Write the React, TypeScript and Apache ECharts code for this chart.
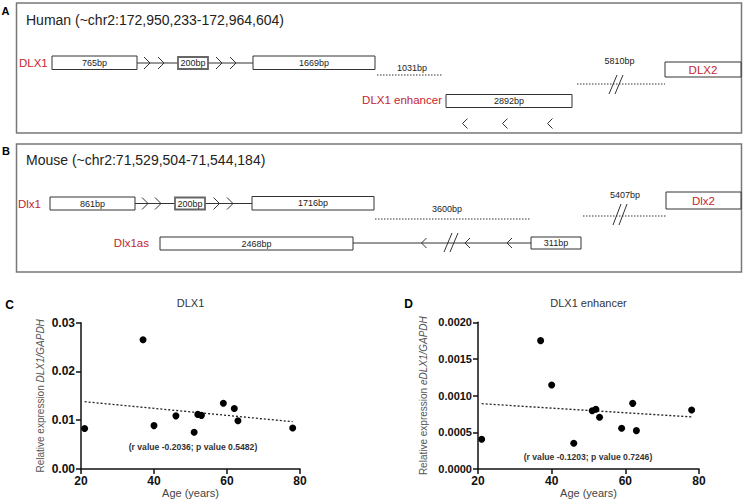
import React, { useEffect, useRef } from "react";
import * as echarts from "echarts";

// ---------- Panels C / D : data ----------
const ages = [21, 37, 40, 46, 51, 52, 53, 59, 62, 63, 78];
const dlx1Expression = [0.0083, 0.0265, 0.0089, 0.0109, 0.00755, 0.0112, 0.011, 0.0135, 0.0124, 0.0099, 0.0084];
const enhancerExpression = [0.000405, 0.00175, 0.001145, 0.00035, 0.000795, 0.000814, 0.000705, 0.000555, 0.000895, 0.000523, 0.000805];
const trendAges = [21, 78];
const dlx1Trend = [0.0138, 0.0097];
const enhancerTrend = [0.00089, 0.00071];
const ageTicks = [20, 40, 60, 80];
const dlx1Ticks = [0, 0.01, 0.02, 0.03];
const enhancerTicks = [0, 0.0005, 0.001, 0.0015, 0.002];
const chartTitles = ["DLX1", "DLX1 enhancer"];
const statsTexts = ["(r value -0.2036; p value 0.5482)", "(r value -0.1203; p value 0.7246)"];
const panelLetters = ["A", "B", "C", "D"];

// ---------- Panels A / B : schematic text ----------
const humanTitle = "Human (~chr2:172,950,233-172,964,604)";
const mouseTitle = "Mouse (~chr2:71,529,504-71,544,184)";
const humanExonLabels = ["765bp", "200bp", "1669bp"];
const mouseExonLabels = ["861bp", "200bp", "1716bp"];
const humanGapLabels = ["1031bp", "5810bp"];
const mouseGapLabels = ["3600bp", "5407bp"];
const humanGeneNames = ["DLX1", "DLX2", "DLX1 enhancer"];
const mouseGeneNames = ["Dlx1", "Dlx2", "Dlx1as"];
const enhancerLabel = "2892bp";
const antisenseLabels = ["2468bp", "311bp"];

const RED = "#c3262f";
const FONT = "'Liberation Sans', Arial, Helvetica, sans-serif";
const INK = "#333";

function txt(x: number, y: number, text: string, size: number, o: any = {}) {
  return {
    type: "text",
    x,
    y,
    silent: true,
    z: 20,
    style: {
      text,
      fontSize: size,
      fontFamily: FONT,
      fontWeight: o.bold ? "bold" : "normal",
      fill: o.fill || "#222",
      align: o.align || "center",
      verticalAlign: "middle",
    },
  };
}
function box(x0: number, y0: number, x1: number, y1: number, label: string, o: any = {}) {
  return [
    {
      type: "rect",
      z: 10,
      shape: { x: x0, y: y0, width: x1 - x0, height: y1 - y0 },
      style: { fill: "#fff", stroke: o.stroke || INK, lineWidth: o.lw || 1 },
    },
    txt((x0 + x1) / 2, (y0 + y1) / 2, label, o.size || 9, { fill: o.fill || "#222" }),
  ];
}
function hline(x0: number, x1: number, y: number, dashed = false) {
  return {
    type: "line",
    z: 5,
    shape: { x1: x0, y1: y, x2: x1, y2: y },
    style: { stroke: dashed ? "#333" : INK, lineWidth: 1, lineDash: dashed ? [1.5, 1.5] : null },
  };
}
function chevron(cx: number, cy: number, dir: number, h = 6, w = 3) {
  return {
    type: "polyline",
    z: 12,
    shape: { points: [[cx - w * dir, cy - h], [cx + w * dir, cy], [cx - w * dir, cy + h]] },
    style: { stroke: INK, lineWidth: 1, fill: null },
  };
}
function slashes(cx: number, yTop: number, yBot: number) {
  const out: any[] = [];
  [-3, 3].forEach((d) => {
    out.push({
      type: "line",
      z: 12,
      shape: { x1: cx + d - 4, y1: yBot, x2: cx + d + 4, y2: yTop },
      style: { stroke: INK, lineWidth: 1 },
    });
  });
  return out;
}
function frame(x: number, y: number, w: number, h: number) {
  return {
    type: "rect",
    z: 1,
    shape: { x, y, width: w, height: h },
    style: { fill: "none", stroke: "#777", lineWidth: 1.5 },
  };
}

function buildGraphic() {
  const g: any[] = [];
  // ----- Panel A -----
  g.push(frame(16.5, 3, 725, 130));
  g.push(txt(5.5, 10.5, panelLetters[0], 11, { bold: true, fill: "#000" }));
  g.push(txt(26, 20, humanTitle, 14, { align: "left" }));
  const yA = 63;
  g.push(txt(19, yA, humanGeneNames[0], 11.5, { align: "left", fill: RED }));
  g.push(hline(137, 253, yA));
  g.push(...box(52, 56, 137, 69.5, humanExonLabels[0]));
  g.push(...box(178, 57, 208, 69, humanExonLabels[1], { stroke: "#666", lw: 1.8 }));
  g.push(...box(253, 56, 375, 69.5, humanExonLabels[2]));
  [147, 161, 219, 233].forEach((x) => g.push(chevron(x, yA, 1)));
  g.push(hline(377, 443, 75, true));
  g.push(txt(412, 67.5, humanGapLabels[0], 9));
  g.push(hline(577, 665, 84, true));
  g.push(...slashes(616, 75, 94));
  g.push(txt(619.5, 61, humanGapLabels[1], 9));
  g.push(...box(665, 62, 741, 77, humanGeneNames[1], { size: 11.5, fill: RED }));
  g.push(txt(442, 100, humanGeneNames[2], 11.5, { align: "right", fill: RED }));
  g.push(...box(446, 94.5, 572, 107.5, enhancerLabel));
  [465, 505, 550].forEach((x) => g.push(chevron(x, 123.5, -1, 5, 2.5)));

  // ----- Panel B -----
  g.push(frame(16.5, 144, 725, 128));
  g.push(txt(6, 151, panelLetters[1], 11, { bold: true, fill: "#000" }));
  g.push(txt(26, 160, mouseTitle, 14, { align: "left" }));
  const yB = 203.5;
  g.push(txt(18, yB, mouseGeneNames[0], 11.5, { align: "left", fill: RED }));
  g.push(hline(135, 252, yB));
  g.push(...box(50, 197, 135, 210, mouseExonLabels[0]));
  g.push(...box(175, 197.5, 205, 209.5, mouseExonLabels[1], { stroke: "#666", lw: 1.8 }));
  g.push(...box(252, 196.5, 374, 210, mouseExonLabels[2]));
  [145, 158, 216.5, 230].forEach((x) => g.push(chevron(x, yB, 1)));
  g.push(hline(375, 530, 219, true));
  g.push(txt(447, 209, mouseGapLabels[0], 9));
  g.push(hline(583, 666, 216, true));
  g.push(...slashes(620, 204, 225));
  g.push(txt(625, 195, mouseGapLabels[1], 9));
  g.push(...box(666, 192, 741, 209, mouseGeneNames[1], { size: 11.5, fill: RED }));
  const yB2 = 243;
  g.push(txt(149, yB2, mouseGeneNames[2], 11.5, { align: "right", fill: RED }));
  g.push(hline(353, 531, yB2));
  g.push(...box(160, 237, 353, 250, antisenseLabels[0]));
  g.push(...box(531, 237, 581, 249, antisenseLabels[1]));
  [424, 467.5, 509.5].forEach((x) => g.push(chevron(x, yB2, -1, 5, 2.5)));
  g.push(...slashes(451, 233, 252));

  // ----- Panels C / D annotations -----
  g.push(txt(9.5, 305, panelLetters[2], 12, { bold: true, fill: "#000" }));
  g.push(txt(408.5, 304, panelLetters[3], 12, { bold: true, fill: "#000" }));
  g.push(txt(190.5, 302.5, chartTitles[0], 11, { fill: "#333" }));
  g.push(txt(588.5, 302.5, chartTitles[1], 11, { fill: "#333" }));
  g.push(txt(193, 447, statsTexts[0], 8.6, { bold: true, fill: "#333" }));
  g.push(txt(588, 457, statsTexts[1], 8.6, { bold: true, fill: "#333" }));
  return g;
}

function axisBase(fontSize: number) {
  return {
    axisLine: { show: true, onZero: false, lineStyle: { color: "#111", width: 1.5 } },
    axisTick: { show: true, length: 5, lineStyle: { color: "#111", width: 1.5 } },
    splitLine: { show: false },
    axisLabel: { color: "#111", fontWeight: "bold", fontSize, fontFamily: FONT },
  };
}

export default function App() {
  const ref = useRef<HTMLDivElement>(null);
  useEffect(() => {
    if (!ref.current) return;
    const chart = echarts.init(ref.current, undefined, { renderer: "svg" });
    const yName = (gene: string) => ({
      name: "{n|Relative expression }{i|" + gene + "/GAPDH}",
      nameLocation: "middle",
      nameTextStyle: {
        color: "#555",
        fontSize: 10,
        fontFamily: FONT,
        rich: {
          n: { fontSize: 10, color: "#555", fontFamily: FONT },
          i: { fontSize: 10, color: "#555", fontFamily: FONT, fontStyle: "italic" },
        },
      },
    });
    const xCommon = {
      type: "value",
      min: ageTicks[0],
      max: ageTicks[ageTicks.length - 1],
      interval: ageTicks[1] - ageTicks[0],
      name: "Age (years)",
      nameLocation: "middle",
      nameGap: 15,
      nameTextStyle: { color: "#444", fontSize: 11, fontFamily: FONT, verticalAlign: "top" },
    };
    const option: any = {
      animation: false,
      backgroundColor: "#fff",
      graphic: buildGraphic(),
      grid: [
        { left: 81, top: 322.7, width: 219, height: 146.3 },
        { left: 478, top: 322.3, width: 221, height: 146.7 },
      ],
      xAxis: [
        { ...xCommon, gridIndex: 0, ...axisBase(12), axisLabel: { ...axisBase(12).axisLabel, margin: 6 } },
        { ...xCommon, gridIndex: 1, ...axisBase(12), axisLabel: { ...axisBase(12).axisLabel, margin: 6 } },
      ],
      yAxis: [
        {
          type: "value",
          gridIndex: 0,
          min: dlx1Ticks[0],
          max: dlx1Ticks[dlx1Ticks.length - 1],
          interval: dlx1Ticks[1] - dlx1Ticks[0],
          ...axisBase(12),
          axisLabel: { ...axisBase(12).axisLabel, margin: 6, formatter: (v: number) => v.toFixed(2) },
          ...yName("DLX1"),
          nameGap: 36,
        },
        {
          type: "value",
          gridIndex: 1,
          min: enhancerTicks[0],
          max: enhancerTicks[enhancerTicks.length - 1],
          interval: enhancerTicks[1] - enhancerTicks[0],
          ...axisBase(11),
          axisLabel: { ...axisBase(11).axisLabel, margin: 6, formatter: (v: number) => v.toFixed(4) },
          ...yName("eDLX1"),
          nameGap: 50,
        },
      ],
      series: [
        {
          type: "line",
          xAxisIndex: 0,
          yAxisIndex: 0,
          data: trendAges.map((a, i) => [a, dlx1Trend[i]]),
          symbol: "none",
          lineStyle: { color: "#222", width: 1.3, type: [2, 2] },
          z: 1,
        },
        {
          type: "scatter",
          xAxisIndex: 0,
          yAxisIndex: 0,
          data: ages.map((a, i) => [a, dlx1Expression[i]]),
          symbolSize: 7,
          itemStyle: { color: "#000", opacity: 1 },
          z: 3,
        },
        {
          type: "line",
          xAxisIndex: 1,
          yAxisIndex: 1,
          data: trendAges.map((a, i) => [a, enhancerTrend[i]]),
          symbol: "none",
          lineStyle: { color: "#222", width: 1.3, type: [2, 2] },
          z: 1,
        },
        {
          type: "scatter",
          xAxisIndex: 1,
          yAxisIndex: 1,
          data: ages.map((a, i) => [a, enhancerExpression[i]]),
          symbolSize: 7,
          itemStyle: { color: "#000", opacity: 1 },
          z: 3,
        },
      ],
    };
    chart.setOption(option);
    return () => chart.dispose();
  }, []);
  return (
    <div
      ref={ref}
      style={{ position: "absolute", left: 0, top: 0, width: 747, height: 504, background: "#fff" }}
    />
  );
}
